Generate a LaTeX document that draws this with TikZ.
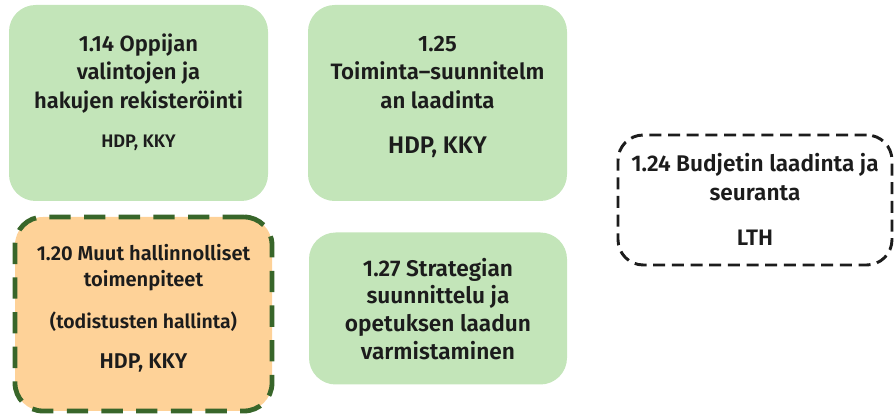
\documentclass[tikz,border=0pt]{standalone}
\usepackage{fontspec}
\setmainfont{Fira Sans}[BoldFont={Fira Sans SemiBold}]
\definecolor{gfill}{HTML}{C3E5B9}
\definecolor{ofill}{HTML}{FED298}
\definecolor{dgreen}{HTML}{38662A}
\definecolor{ink}{HTML}{1C1C1C}
\tikzset{
  gbox/.style={fill=gfill, draw=none, rounded corners=20pt, inner sep=0pt, outer sep=0pt},
  obox/.style={fill=ofill, draw=dgreen, line width=3.6pt, dash pattern=on 16pt off 10pt, rounded corners=21pt, inner sep=0pt, outer sep=0pt},
  wbox/.style={fill=white, draw=ink, line width=2.2pt, dash pattern=on 9pt off 5pt, rounded corners=19pt, inner sep=0pt, outer sep=0pt},
  tl/.style={anchor=base, inner sep=0pt, text=ink, font=\bfseries\fontsize{16.5}{19}\selectfont},
}
\begin{document}
\begin{tikzpicture}[x=0.75pt, y=-0.75pt]
\useasboundingbox (0,0) rectangle (896,416);
% boxes
\node[gbox, minimum width=194.25pt, minimum height=147pt] (b1) at (138.5,103) {};
\node[gbox, minimum width=194.25pt, minimum height=147pt] (b2) at (437.5,103) {};
\node[obox, minimum width=192.75pt, minimum height=145.5pt] (b3) at (143.5,314) {};
\node[gbox, minimum width=193.5pt, minimum height=114pt] (b4) at (438,308.5) {};
\node[wbox, minimum width=205.5pt, minimum height=97.5pt] (b5) at (755,200) {};
% box 1
\node[tl] (b1a) at (138.5,52) {1.14 Oppijan};
\node[tl] (b1b) at (138.5,80) {valintojen ja};
\node[tl] (b1c) at (138.5,109) {hakujen rekisteröinti};
\node[tl, font=\bfseries\fontsize{13.6}{16}\selectfont] (b1d) at (138.5,148) {HDP, KKY};
% box 2
\node[tl, font=\bfseries\fontsize{16.7}{19}\selectfont] (b2a) at (437.5,52) {1.25};
\node[tl, font=\bfseries\fontsize{16.7}{19}\selectfont] (b2b) at (437.5,80) {Toiminta–suunnitelm};
\node[tl, font=\bfseries\fontsize{16.7}{19}\selectfont] (b2c) at (437.5,109) {an laadinta};
\node[tl, font=\bfseries\fontsize{18}{21}\selectfont] (b2d) at (437.5,154) {HDP, KKY};
% box 3
\node[tl, font=\bfseries\fontsize{15.1}{18}\selectfont] (b3a) at (143.5,261) {1.20 Muut hallinnolliset};
\node[tl, font=\bfseries\fontsize{15.1}{18}\selectfont] (b3b) at (143.5,287) {toimenpiteet};
\node[tl, font=\bfseries\fontsize{14.6}{17}\selectfont] (b3c) at (143.5,329) {(todistusten hallinta)};
\node[tl, font=\bfseries\fontsize{16}{19}\selectfont] (b3d) at (143.5,369) {HDP, KKY};
% box 4
\node[tl, font=\bfseries\fontsize{17}{20}\selectfont] (b4a) at (438,277) {1.27 Strategian};
\node[tl, font=\bfseries\fontsize{17}{20}\selectfont] (b4b) at (438,304) {suunnittelu ja};
\node[tl, font=\bfseries\fontsize{17}{20}\selectfont] (b4c) at (438,332) {opetuksen laadun};
\node[tl, font=\bfseries\fontsize{17}{20}\selectfont] (b4d) at (438,360) {varmistaminen};
% box 5
\node[tl, font=\bfseries\fontsize{17}{20}\selectfont] (b5a) at (755,172) {1.24 Budjetin laadinta ja};
\node[tl, font=\bfseries\fontsize{17}{20}\selectfont] (b5b) at (755,201) {seuranta};
\node[tl, font=\bfseries\fontsize{16.8}{20}\selectfont] (b5c) at (755,246) {LTH};
\end{tikzpicture}
\end{document}
